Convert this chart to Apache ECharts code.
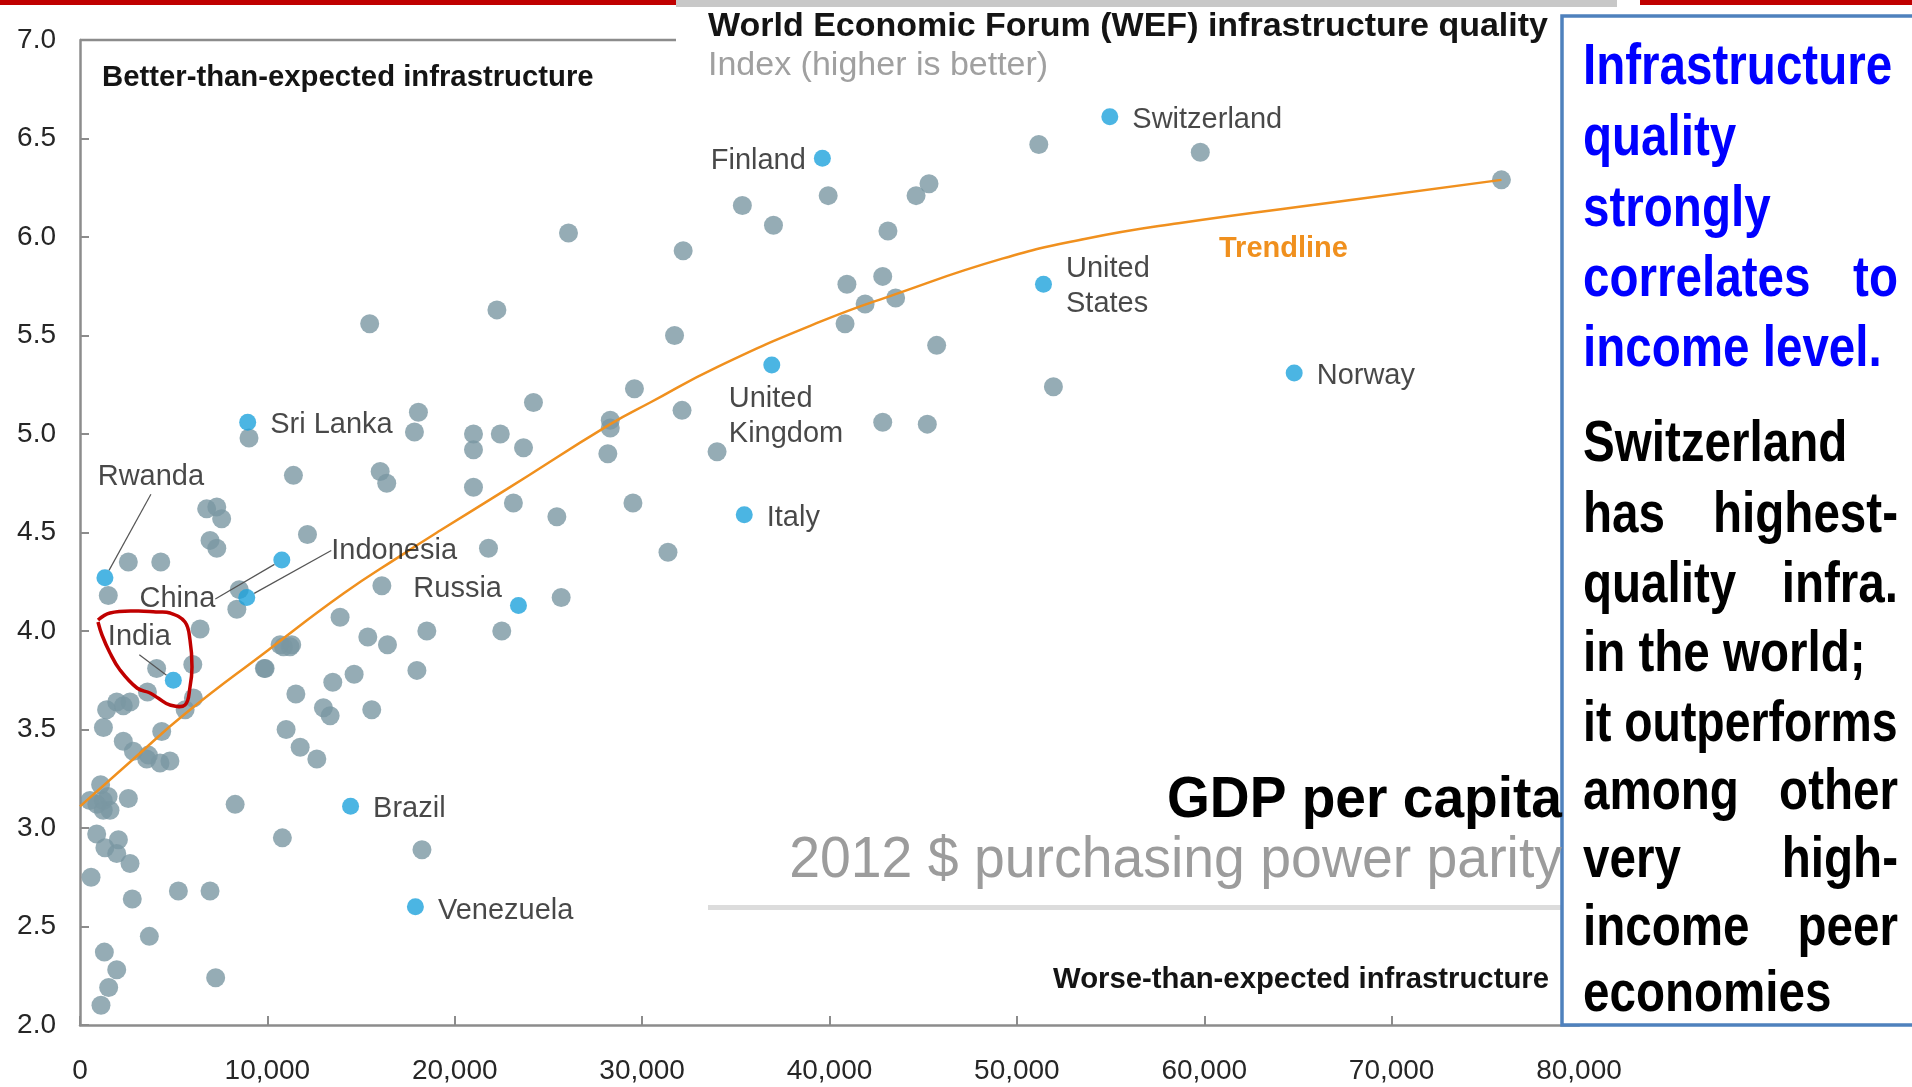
<!DOCTYPE html>
<html>
<head>
<meta charset="utf-8">
<script src="https://cdn.jsdelivr.net/npm/echarts@6/dist/echarts.min.js"></script>
<style>
html,body{margin:0;padding:0;background:#fff;}
#chart{width:1912px;height:1087px;}
</style>
</head>
<body>
<div id="chart"></div>
<script>
// ---- Data ----
const grayGdp = [530,1100,1240,1600,1240,1500,900,2580,8280,10800,890,2050,1330,1960,2670,590,2790,5250,6940,3700,1300,1960,1530,1120,7240,18250,12640,3560,4270,4800,1510,2580,4310,6760,7300,7560,6940,7300,12140,8500,8370,6410,4090,6020,3600,6050,5610,1420,1960,2310,2670,1250,4360,2310,2850,3650,10860,11210,9880,11520,12990,13350,11000,11750,13880,9020,11390,18060,17850,16020,16370,21000,21000,22430,23670,24200,21000,23130,25450,21800,16110,25680,18510,22510,10680,11300,15360,16410,9840,17980,14630,13490,15570,22250,31730,29590,32130,28300,28300,28170,34000,29510,31380,15460,26070,32190,51170,59790,75860,35350,39930,37010,45310,44620,43120,40930,42840,43530,41900,40830,45720,51950,42840,45220];
const grayInfra = [3.14,3.22,3.14,3.09,3.09,3.16,3.12,3.15,3.12,2.95,2.97,2.94,2.90,2.87,2.82,2.75,2.64,2.68,2.68,2.45,2.37,2.28,2.19,2.10,2.24,2.89,3.35,3.35,3.33,3.34,4.18,4.35,4.35,4.62,4.63,4.57,4.46,4.42,4.49,4.21,4.11,4.01,3.81,3.83,3.69,3.66,3.60,3.60,3.64,3.62,3.64,3.51,3.49,3.44,3.39,3.37,3.92,3.92,3.81,3.68,3.61,3.57,3.50,3.41,4.07,4.98,4.79,5.11,5.01,4.81,4.75,5.00,4.92,5.00,4.93,5.16,4.73,4.65,4.58,4.42,4.23,4.17,4.00,4.00,3.93,3.93,3.97,3.93,3.81,3.80,3.78,3.74,3.60,5.63,5.50,5.23,5.12,5.07,5.03,4.90,4.91,4.65,4.40,5.56,6.02,5.93,6.47,6.43,6.29,6.16,6.21,6.06,6.27,6.21,6.03,5.76,5.80,5.69,5.66,5.56,5.45,5.24,5.06,5.05];

const hlNames = ['Switzerland','Finland','United States','Norway','United Kingdom','Italy','Sri Lanka','China','Indonesia','Rwanda','India','Russia','Brazil','Venezuela'];
const hlGdp   = [54960,39620,51420,64800,36920,35450,8950,10770,8900,1330,4980,23400,14440,17900];
const hlInfra = [6.61,6.40,5.76,5.31,5.35,4.59,5.06,4.36,4.17,4.27,3.75,4.13,3.11,2.60];

const trendGdp   = [0,2850,5610,10000,14060,17080,19220,22780,28300,30430,34000,39510,43530,49220,53610,58620,68020,75860];
const trendInfra = [3.11,3.35,3.58,3.90,4.19,4.38,4.51,4.72,5.05,5.16,5.34,5.57,5.71,5.89,5.99,6.07,6.19,6.29];

// ---- Styles / label placement (not data) ----
const FF = '"Liberation Sans", Arial, Helvetica, sans-serif';
const labelCfg = {
  'Switzerland': {position:'right', distance:14, layout:[0,3]},
  'Finland': {position:'left', distance:8, layout:[0,3]},
  'United States': {position:'right', distance:14, text:'United\nStates', layout:[0,2]},
  'Norway': {position:'right', distance:14, layout:[0,3]},
  'United Kingdom': {position:'bottom', distance:5, align:'left', text:'United\nKingdom', layout:[-43,3]},
  'Italy': {position:'right', distance:14, layout:[0,3]},
  'Sri Lanka': {position:'right', distance:14, layout:[0,3]},
  'China': {position:'left', distance:8, layout:[-50,39], line:true},
  'Indonesia': {position:'right', distance:8, layout:[68,-47], line:true},
  'Rwanda': {position:'top', distance:5, layout:[46,-70], line:true},
  'India': {position:'top', distance:5, layout:[-34,-12], line:true},
  'Russia': {position:'left', distance:8, layout:[0,-16]},
  'Brazil': {position:'right', distance:14, layout:[0,3]},
  'Venezuela': {position:'right', distance:14, layout:[0,4]}
};

const grayData = grayGdp.map((g,i)=>[g, grayInfra[i]]);
const hlData = hlNames.map((n,i)=>{
  const c = labelCfg[n];
  const item = {name:n, value:[hlGdp[i], hlInfra[i]],
    label:{show:true, position:c.position, distance:c.distance,
      formatter: c.text || n}};
  if (c.align) item.label.align = c.align;
  if (c.line) item.labelLine = {show:true, lineStyle:{color:'#555', width:1.2}};
  return item;
});
const trendData = trendGdp.map((g,i)=>[g, trendInfra[i]]);

const chart = echarts.init(document.getElementById('chart'), null, {renderer:'canvas'});

// Box text lines
const boxLines = [
  {c:'#0000ff', y:68, parts:['Infrastructure']},
  {c:'#0000ff', y:139, parts:['quality']},
  {c:'#0000ff', y:210, parts:['strongly']},
  {c:'#0000ff', y:280, parts:['correlates','to']},
  {c:'#0000ff', y:350, parts:['income level.']},
  {c:'#000000', y:445, parts:['Switzerland']},
  {c:'#000000', y:516, parts:['has','highest-']},
  {c:'#000000', y:586, parts:['quality','infra.']},
  {c:'#000000', y:655, parts:['in the world;']},
  {c:'#000000', y:725, parts:['it outperforms'], sx:0.8},
  {c:'#000000', y:793, parts:['among','other']},
  {c:'#000000', y:861, parts:['very','high-']},
  {c:'#000000', y:929, parts:['income','peer']},
  {c:'#000000', y:995, parts:['economies']}
];
const BOX_L = 1583, BOX_R = 1898;
function txt(x, y, text, font, fill, align, vAlign, extra){
  return Object.assign({type:'text', x:x, y:y, z:110,
    style:{text:text, font:font, fill:fill, align:align, verticalAlign:vAlign,
      textAlign:align, textVerticalAlign:vAlign}}, extra||{});
}
const boxTexts = [];
boxLines.forEach(l=>{
  const font = 'bold 58px ' + FF;
  const sx = l.sx || 0.82;
  boxTexts.push(txt(BOX_L, l.y, l.parts[0], font, l.c, 'left', 'middle', {scaleX:sx}));
  if (l.parts.length > 1) boxTexts.push(txt(BOX_R, l.y, l.parts[1], font, l.c, 'right', 'middle', {scaleX:sx}));
});

const indiaLoop = [[98,620],[110,613],[137,611],[156,612],[170,613],[185,622],[190,640],[192,667],[190,687],[185,705],[170,705],[158,698],[150,693],[137,688],[120,670],[110,653],[102,635],[98,622]];

const option = {
  animation:false,
  grid:{left:80, right:333, top:40, bottom:62, containLabel:false},
  xAxis:{type:'value', min:0, max:80000, interval:10000,
    axisLine:{show:true, lineStyle:{color:'#8c8c8c', width:2.5}},
    axisTick:{show:true, inside:true, length:9, lineStyle:{color:'#8c8c8c', width:2}},
    axisLabel:{fontFamily:FF, fontSize:28, color:'#262626', margin:32,
      formatter:v=> v===0 ? '0' : v.toLocaleString('en-US')},
    splitLine:{show:false}},
  yAxis:{type:'value', min:2, max:7, interval:0.5,
    axisLine:{show:true, lineStyle:{color:'#8c8c8c', width:2.5}},
    axisTick:{show:true, inside:true, length:9, lineStyle:{color:'#8c8c8c', width:2}},
    axisLabel:{fontFamily:FF, fontSize:28, color:'#262626', margin:24, padding:[10,0,0,0],
      formatter:v=> v.toFixed(1)},
    splitLine:{show:false}},
  series:[
    {type:'scatter', name:'Economies', data:grayData, symbolSize:19, z:2,
      itemStyle:{color:'#7b97a3'}, silent:true},
    {type:'line', name:'Trendline', data:trendData, smooth:0.5, showSymbol:false, z:3,
      lineStyle:{color:'#f0901e', width:2.5}, silent:true},
    {type:'scatter', name:'Highlighted', data:hlData, symbolSize:17, z:4,
      itemStyle:{color:'#1ea3dc'}, silent:true,
      label:{show:true, fontFamily:FF, fontSize:29, color:'#1a1a1a', lineHeight:35},
      labelLayout:function(p){
        const c = labelCfg[hlNames[p.dataIndex]];
        return (c && c.layout) ? {dx:c.layout[0], dy:c.layout[1]} : {};
      }}
  ],
  graphic:[
    // slide chrome at the top
    {type:'rect', shape:{x:0, y:0, width:676, height:5}, style:{fill:'#c00000'}, z:100},
    {type:'rect', shape:{x:676, y:0, width:941, height:7}, style:{fill:'#c8c8c8'}, z:100},
    {type:'rect', shape:{x:1640, y:0, width:272, height:5}, style:{fill:'#c00000'}, z:100},
    // top frame line of plot
    {type:'line', shape:{x1:80, y1:40, x2:676, y2:40}, style:{stroke:'#8c8c8c', lineWidth:2.5}, z:100},
    // titles
    txt(708, 27, 'World Economic Forum (WEF) infrastructure quality', 'bold 34px ' + FF, '#141414', 'left', 'middle'),
    txt(708, 66, 'Index (higher is better)', '34px ' + FF, '#a0a0a0', 'left', 'middle'),
    txt(102, 78, 'Better-than-expected infrastructure', 'bold 29.3px ' + FF, '#141414', 'left', 'middle'),
    txt(1549, 980, 'Worse-than-expected infrastructure', 'bold 29.3px ' + FF, '#141414', 'right', 'middle'),
    txt(1219, 249, 'Trendline', 'bold 29px ' + FF, '#f0901e', 'left', 'middle'),
    txt(1562, 801, 'GDP per capita', 'bold 58px ' + FF, '#000000', 'right', 'middle', {scaleX:0.95}),
    txt(1562, 861, '2012 $ purchasing power parity', '58px ' + FF, '#9c9c9c', 'right', 'middle', {scaleX:0.955}),
    {type:'rect', shape:{x:708, y:905, width:854, height:5}, style:{fill:'#dcdcdc'}, z:100},
    // India hand-drawn loop
    {type:'polyline', shape:{points:indiaLoop, smooth:0.4}, style:{stroke:'#c00000', lineWidth:3.5, fill:null}, z:105},
    // right text box
    {type:'rect', shape:{x:1562, y:16, width:380, height:1009}, style:{fill:'#ffffff', stroke:'#4f81bd', lineWidth:3.5}, z:108}
  ].concat(boxTexts)
};
chart.setOption(option);
</script>
</body>
</html>
